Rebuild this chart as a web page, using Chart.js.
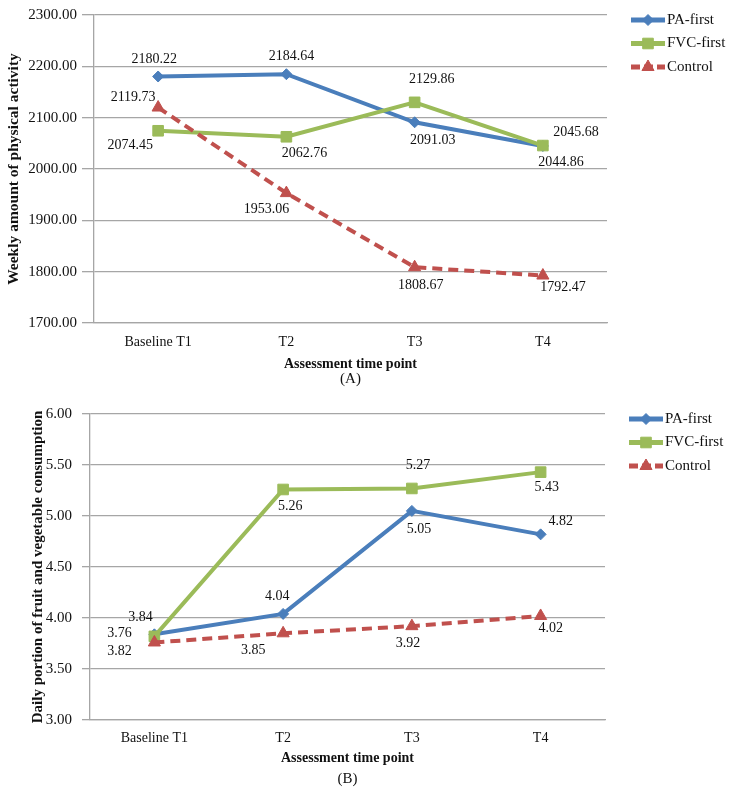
<!DOCTYPE html>
<html>
<head>
<meta charset="utf-8">
<script src="https://cdn.jsdelivr.net/npm/chart.js@4.4.0/dist/chart.umd.min.js"></script>
<style>
  body { margin: 0; background: #fff; }
  #wrapA { position: absolute; left: 0; top: 0; }
  #wrapB { position: absolute; left: 0; top: 395px; }
</style>
</head>
<body>
<div id="wrapA"><canvas id="chartA" width="736" height="395"></canvas></div>
<div id="wrapB"><canvas id="chartB" width="736" height="403"></canvas></div>
<script>
// values
const timePoints = ['Baseline T1', 'T2', 'T3', 'T4'];
const seriesNames = ['PA-first', 'FVC-first', 'Control'];

const paFirstActivity = [2180.22, 2184.64, 2091.03, 2044.86];
const fvcFirstActivity = [2074.45, 2062.76, 2129.86, 2045.68];
const controlActivity = [2119.73, 1953.06, 1808.67, 1792.47];
const activityTicks = [1700, 1800, 1900, 2000, 2100, 2200, 2300];

const paFirstPortion = [3.84, 4.04, 5.05, 4.82];
const fvcFirstPortion = [3.82, 5.26, 5.27, 5.43];
const controlPortion = [3.76, 3.85, 3.92, 4.02];
const portionTicks = [3.0, 3.5, 4.0, 4.5, 5.0, 5.5, 6.0];

const serif = '"Liberation Serif", "Times New Roman", serif';
const colors = ['#4a7ebb', '#9bbb59', '#c0504d'];

// draws the number next to each point, offsets are per point
const valueLabels = {
	id: 'valueLabels',
	afterDatasetsDraw(chart) {
		const ctx = chart.ctx;
		ctx.save();
		ctx.font = '14px ' + serif;
		ctx.fillStyle = '#111';
		ctx.textAlign = 'center';
		ctx.textBaseline = 'middle';
		chart.data.datasets.forEach((ds, i) => {
			const meta = chart.getDatasetMeta(i);
			meta.data.forEach((pt, j) => {
				const off = ds.labelOffsets[j];
				ctx.fillText(ds.data[j].toFixed(2), pt.x + off[0], pt.y + off[1]);
			});
		});
		ctx.restore();
	}
};

// legend like the excel one: thick line with the marker in the middle
// plus the (A)/(B) caption centred under the plot
const sideLegend = {
	id: 'sideLegend',
	afterDraw(chart, args, opts) {
		const ctx = chart.ctx;
		const area = chart.chartArea;
		const x0 = area.right + 24;
		chart.data.datasets.forEach((ds, i) => {
			const y = area.top + 5 + i * 23.5;
			ctx.save();
			ctx.strokeStyle = ds.borderColor;
			ctx.fillStyle = ds.borderColor;
			ctx.lineWidth = 5;
			ctx.setLineDash(ds.borderDash.length ? [9, 4] : []);
			ctx.beginPath();
			ctx.moveTo(x0, y);
			ctx.lineTo(x0 + 34, y);
			ctx.stroke();
			ctx.setLineDash([]);
			ctx.lineWidth = 1;
			if (Chart.helpers && Chart.helpers.drawPoint) {
				Chart.helpers.drawPoint(ctx, {
					pointStyle: ds.pointStyle,
					radius: ds.pointRadius,
					borderWidth: 1,
					rotation: 0
				}, x0 + 17, y);
			}
			ctx.fillStyle = '#111';
			ctx.font = '15px ' + serif;
			ctx.textAlign = 'left';
			ctx.textBaseline = 'middle';
			ctx.fillText(ds.label, x0 + 36, y);
			ctx.restore();
		});
		ctx.save();
		ctx.fillStyle = '#111';
		ctx.font = '15px ' + serif;
		ctx.textAlign = 'center';
		ctx.textBaseline = 'middle';
		ctx.fillText(opts.caption, (area.left + area.right) / 2, area.bottom + opts.captionGap);
		ctx.restore();
	}
};

function series(idx, values, style, radius, dash, offsets) {
	return {
		label: seriesNames[idx],
		data: values,
		borderColor: colors[idx],
		backgroundColor: colors[idx],
		pointBackgroundColor: colors[idx],
		pointBorderColor: colors[idx],
		borderWidth: 4,
		borderDash: dash,
		pointStyle: style,
		pointRadius: radius,
		pointBorderWidth: 1,
		lineTension: 0,
		fill: false,
		order: 3 - idx,
		labelOffsets: offsets
	};
}

function buildChart(id, o) {
	return new Chart(document.getElementById(id), {
		type: 'line',
		data: {
			labels: timePoints,
			datasets: [
				series(0, o.pa, 'rectRot', 5.5, [], o.paOff),
				series(1, o.fvc, 'rect', 7.5, [], o.fvcOff),
				series(2, o.control, 'triangle', 7, [10, 6], o.controlOff)
			]
		},
		options: {
			responsive: false,
			animation: false,
			events: [],
			layout: { padding: o.padding },
			plugins: {
				legend: { display: false },
				tooltip: { enabled: false },
				sideLegend: { caption: o.caption, captionGap: o.captionGap }
			},
			scales: {
				x: {
					offset: true,
					grid: { display: false, drawTicks: false },
					border: { display: true, color: '#a6a6a6', width: 1.3 },
					ticks: { color: '#111', padding: o.xTickPad, font: { family: serif, size: 14 } },
					title: {
						display: true,
						text: 'Assessment time point',
						color: '#111',
						padding: { top: 0, bottom: o.xTitlePad },
						font: { family: serif, size: 14, weight: 'bold' }
					},
					afterFit: s => { s.height = o.xHeight; }
				},
				y: {
					min: o.ticks[0],
					max: o.ticks[o.ticks.length - 1],
					afterBuildTicks: s => { s.ticks = o.ticks.map(v => ({ value: v })); },
					grid: { color: '#a6a6a6', lineWidth: 1.3, tickLength: o.tickLen },
					border: { display: true, color: '#a6a6a6', width: 1.3 },
					ticks: {
						color: '#111',
						padding: o.yTickPad,
						font: { family: serif, size: 15 },
						callback: v => Number(v).toFixed(2)
					},
					title: {
						display: true,
						text: o.yTitle,
						color: '#111',
						padding: { top: o.yTitlePad, bottom: 0 },
						font: { family: serif, size: o.yTitleSize, weight: 'bold' }
					},
					afterFit: s => { s.width = o.yWidth; }
				}
			}
		},
		plugins: [valueLabels, sideLegend]
	});
}

buildChart('chartA', {
	pa: paFirstActivity,
	fvc: fvcFirstActivity,
	control: controlActivity,
	ticks: activityTicks,
	paOff: [[-4, -17], [5, -18], [18, 18], [18, 16]],
	fvcOff: [[-28, 15], [18, 17], [17, -23], [33, -13]],
	controlOff: [[-25, -10], [-20, 16], [6, 18], [20, 12]],
	caption: '(A)',
	captionGap: 56,
	yTitle: 'Weekly amount of physical activity',
	yTitleSize: 15.5,
	padding: { left: 0, right: 129, top: 15, bottom: 22 },
	yWidth: 94,
	tickLen: 12,
	yTickPad: 5,
	yTitlePad: 5,
	xHeight: 50,
	xTickPad: 11,
	xTitlePad: 0
});

buildChart('chartB', {
	pa: paFirstPortion,
	fvc: fvcFirstPortion,
	control: controlPortion,
	ticks: portionTicks,
	paOff: [[-14, -17], [-6, -18], [7, 18], [20, -13]],
	fvcOff: [[-35, 15], [7, 17], [6, -23], [6, 15]],
	controlOff: [[-35, -9], [-30, 17], [-4, 17], [10, 12]],
	caption: '(B)',
	captionGap: 59,
	yTitle: 'Daily portion of fruit and vegetable consumption',
	yTitleSize: 15,
	padding: { left: 25, right: 131, top: 16, bottom: 26 },
	yWidth: 65,
	tickLen: 8,
	yTickPad: 10,
	yTitlePad: 4,
	xHeight: 52,
	xTickPad: 10,
	xTitlePad: 5
});
</script>
</body>
</html>
